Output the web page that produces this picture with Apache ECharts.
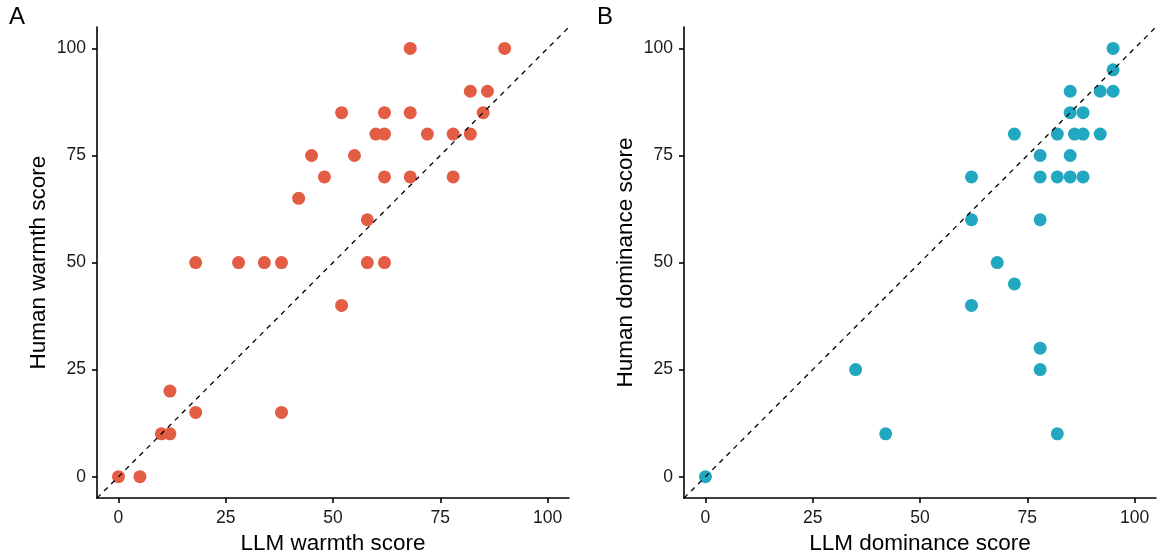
<!DOCTYPE html>
<html>
<head>
<meta charset="utf-8">
<script src="https://cdn.jsdelivr.net/npm/echarts@6/dist/echarts.min.js"></script>
<style>html,body{margin:0;padding:0;background:#fff;}#c{width:1158px;height:560px;}</style>
</head>
<body>
<div id="c"></div>
<script>
// Panel A: warmth
const warmthLLM   = [68, 90, 82, 86, 52, 62, 68, 85, 60, 62, 72, 78, 82, 45, 55, 48, 62, 68, 78, 42, 58, 18, 28, 34, 38, 58, 62, 52, 12, 18, 38, 10, 12, 0, 5];
const warmthHuman = [100,100, 90, 90, 85, 85, 85, 85, 80, 80, 80, 80, 80, 75, 75, 70, 70, 70, 70, 65, 60, 50, 50, 50, 50, 50, 50, 40, 20, 15, 15, 10, 10, 0, 0];
// Panel B: dominance
const domLLM   = [95, 95, 92, 95, 85, 85, 88, 72, 82, 86, 88, 92, 78, 85, 62, 78, 82, 85, 88, 62, 78, 68, 72, 62, 78, 78, 35, 42, 82, 0];
const domHuman = [100,95, 90, 90, 90, 85, 85, 80, 80, 80, 80, 80, 75, 75, 70, 70, 70, 70, 70, 60, 60, 50, 45, 40, 30, 25, 25, 10, 10, 0];
const tickValues = [0, 25, 50, 75, 100];
const axisRange = [-5, 105];
const panelLabels = ['A', 'B'];
const xTitles = ['LLM warmth score', 'LLM dominance score'];
const yTitles = ['Human warmth score', 'Human dominance score'];
const colors = ['#E35C44', '#21A7BF'];

const pairs = (a, b) => a.map((v, i) => [v, b[i]]);
const FONT = '"Liberation Sans", Arial, sans-serif';

function xAx(i) {
  return {
    type: 'value', gridIndex: i, min: axisRange[0], max: axisRange[1],
    name: xTitles[i], nameLocation: 'middle', nameGap: 33,
    nameTextStyle: { fontSize: 22.5, color: '#000', fontFamily: FONT },
    axisLine: { show: true, onZero: false, lineStyle: { color: '#000', width: 1.6 } },
    axisTick: { show: true, length: 5, customValues: tickValues, lineStyle: { color: '#000', width: 1.6 } },
    axisLabel: { customValues: tickValues, fontSize: 17.5, color: '#1a1a1a', margin: 11, fontFamily: FONT },
    splitLine: { show: false }
  };
}
function yAx(i) {
  return {
    type: 'value', gridIndex: i, min: axisRange[0], max: axisRange[1],
    name: yTitles[i], nameLocation: 'middle', nameGap: 47, nameRotate: 90,
    nameTextStyle: { fontSize: 22.5, color: '#000', fontFamily: FONT },
    axisLine: { show: true, onZero: false, lineStyle: { color: '#000', width: 1.6 } },
    axisTick: { show: true, length: 5, customValues: tickValues, lineStyle: { color: '#000', width: 1.6 } },
    axisLabel: { customValues: tickValues, fontSize: 17.5, color: '#1a1a1a', margin: 11, fontFamily: FONT },
    splitLine: { show: false }
  };
}
function scatter(i, data) {
  return {
    type: 'scatter', xAxisIndex: i, yAxisIndex: i, data: data,
    symbolSize: 13, itemStyle: { color: colors[i], opacity: 1 }, z: 2, silent: true
  };
}
function diag(i) {
  return {
    type: 'line', xAxisIndex: i, yAxisIndex: i, data: [[axisRange[0], axisRange[0]], [axisRange[1], axisRange[1]]],
    showSymbol: false, symbol: 'none', z: 3, silent: true,
    lineStyle: { color: '#000', width: 1.3, type: [5, 5] }
  };
}

const chart = echarts.init(document.getElementById('c'), null, { renderer: 'canvas' });
chart.setOption({
  backgroundColor: '#fff',
  animation: false,
  textStyle: { fontFamily: FONT },
  grid: [
    { left: 97, top: 27, width: 472, height: 472 },
    { left: 684, top: 27, width: 472, height: 472 }
  ],
  xAxis: [xAx(0), xAx(1)],
  yAxis: [yAx(0), yAx(1)],
  series: [
    scatter(0, pairs(warmthLLM, warmthHuman)),
    diag(0),
    scatter(1, pairs(domLLM, domHuman)),
    diag(1)
  ],
  graphic: [
    { type: 'text', left: 9, top: 5, style: { text: panelLabels[0], fontSize: 24, fill: '#000', fontFamily: FONT } },
    { type: 'text', left: 597, top: 5, style: { text: panelLabels[1], fontSize: 24, fill: '#000', fontFamily: FONT } }
  ]
});
</script>
</body>
</html>
